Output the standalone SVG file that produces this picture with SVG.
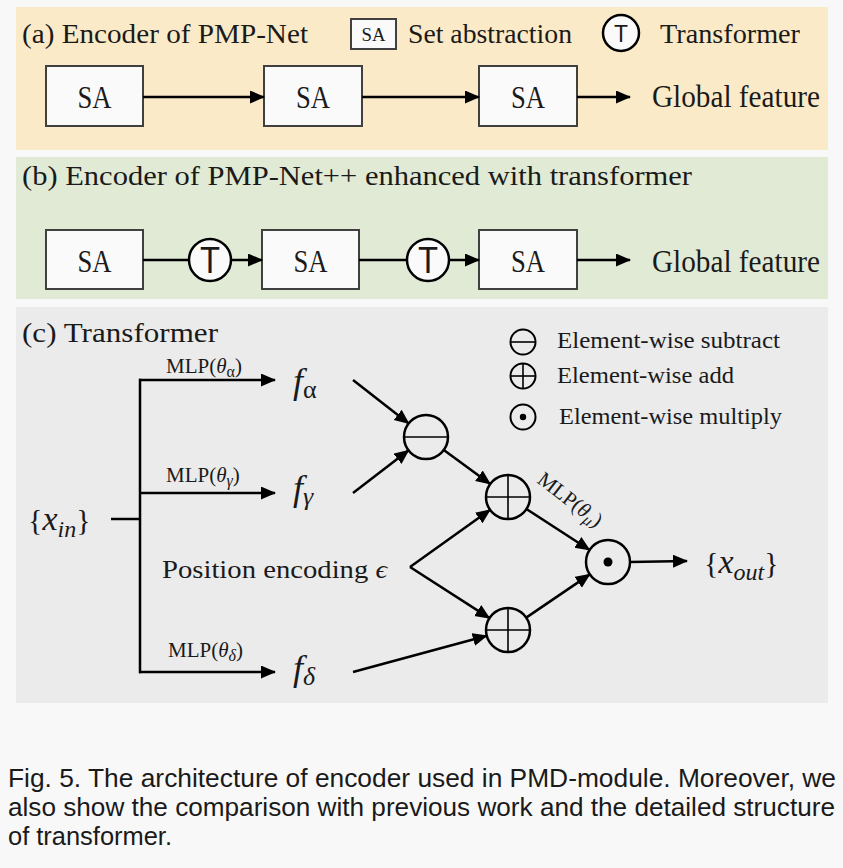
<svg xmlns="http://www.w3.org/2000/svg" width="843" height="868" viewBox="0 0 843 868">
<style>
  .serif { font-family: "Liberation Serif", "DejaVu Serif", serif; fill: #1a1a1a; }
  .it { font-style: italic; }
  .sans { font-family: "Liberation Sans", Arial, sans-serif; fill: #1a1a1a; }
  .box { fill: #fafafa; stroke: #404040; stroke-width: 2; }
  .ln { fill: none; stroke: #000; stroke-width: 2.5; }
  .arr { fill: none; stroke: #000; stroke-width: 2.5; marker-end: url(#ah); }
  .op { fill: none; stroke: #000; stroke-width: 2.5; }
  .opw { fill: #fafafa; stroke: #000; stroke-width: 2.5; }
  .in { stroke: #000; stroke-width: 1.6; }
</style>
<defs>
  <marker id="ah" markerUnits="userSpaceOnUse" markerWidth="16" markerHeight="14" refX="14" refY="6.5" orient="auto">
    <path d="M0,0 L15,6.5 L0,13 z" fill="#000"/>
  </marker>
</defs>
<rect x="0" y="0" width="843" height="868" fill="#f8f8f8"/>

<!-- Panel (a) -->
<g id="panel-a">
  <rect x="16" y="7" width="812" height="143" fill="#fbeac7"/>
  <text class="serif" x="22" y="43" font-size="28" textLength="286" lengthAdjust="spacingAndGlyphs">(a) Encoder of PMP-Net</text>
  <g id="legend-sa">
    <rect x="351" y="19" width="45" height="30" class="box" stroke-width="1.5"/>
    <text class="serif" x="373.5" y="41" font-size="19" text-anchor="middle" textLength="24" lengthAdjust="spacingAndGlyphs">SA</text>
    <text class="serif" x="408" y="43" font-size="28" textLength="164" lengthAdjust="spacingAndGlyphs">Set abstraction</text>
  </g>
  <g id="legend-t">
    <circle cx="621" cy="33" r="18" fill="#fafafa" stroke="#000" stroke-width="2.5"/>
    <text class="sans" x="621" y="42" font-size="24" text-anchor="middle" textLength="14" lengthAdjust="spacingAndGlyphs">T</text>
    <text class="serif" x="660" y="43" font-size="28" textLength="140" lengthAdjust="spacingAndGlyphs">Transformer</text>
  </g>
  <g id="a-sa1"><rect x="46" y="66" width="97" height="60" class="box"/><text class="serif" x="94.5" y="108" font-size="32" text-anchor="middle" textLength="34" lengthAdjust="spacingAndGlyphs">SA</text></g>
  <g id="a-sa2"><rect x="264" y="66" width="98" height="60" class="box"/><text class="serif" x="313" y="108" font-size="32" text-anchor="middle" textLength="34" lengthAdjust="spacingAndGlyphs">SA</text></g>
  <g id="a-sa3"><rect x="479" y="66" width="98" height="60" class="box"/><text class="serif" x="528" y="108" font-size="32" text-anchor="middle" textLength="34" lengthAdjust="spacingAndGlyphs">SA</text></g>
  <g id="a-global"><text class="serif" x="652" y="107" font-size="31" textLength="168" lengthAdjust="spacingAndGlyphs">Global feature</text></g>
</g>

<!-- Panel (b) -->
<g id="panel-b">
  <rect x="16" y="157" width="812" height="142" fill="#e0ead5"/>
  <text class="serif" x="22" y="185" font-size="28" textLength="670" lengthAdjust="spacingAndGlyphs">(b) Encoder of PMP-Net++ enhanced with transformer</text>
  <g id="b-sa1"><rect x="46" y="230" width="97" height="59" class="box"/><text class="serif" x="94.5" y="272" font-size="32" text-anchor="middle" textLength="34" lengthAdjust="spacingAndGlyphs">SA</text></g>
  <g id="b-sa2"><rect x="262" y="230" width="97" height="59" class="box"/><text class="serif" x="310.5" y="272" font-size="32" text-anchor="middle" textLength="34" lengthAdjust="spacingAndGlyphs">SA</text></g>
  <g id="b-sa3"><rect x="479" y="230" width="98" height="59" class="box"/><text class="serif" x="528" y="272" font-size="32" text-anchor="middle" textLength="34" lengthAdjust="spacingAndGlyphs">SA</text></g>
  <g id="b-t1"><circle cx="210" cy="260" r="21" class="opw"/><text class="sans" x="210" y="273" font-size="36" text-anchor="middle" textLength="20" lengthAdjust="spacingAndGlyphs">T</text></g>
  <g id="b-t2"><circle cx="428" cy="260" r="21" class="opw"/><text class="sans" x="428" y="273" font-size="36" text-anchor="middle" textLength="20" lengthAdjust="spacingAndGlyphs">T</text></g>
  <g id="b-global"><text class="serif" x="652" y="272" font-size="31" textLength="168" lengthAdjust="spacingAndGlyphs">Global feature</text></g>
</g>

<!-- Panel (c) -->
<g id="panel-c">
  <rect x="16" y="307" width="812" height="396" fill="#ebebeb"/>
  <text class="serif" x="22" y="342" font-size="28" textLength="196" lengthAdjust="spacingAndGlyphs">(c) Transformer</text>

  <g id="legend-ops">
    <circle cx="523" cy="342" r="12.5" fill="none" stroke="#000" stroke-width="2"/>
    <line x1="510.5" y1="342" x2="535.5" y2="342" class="in" stroke-width="1.3"/>
    <text class="serif" x="557" y="348" font-size="23" textLength="223" lengthAdjust="spacingAndGlyphs">Element-wise subtract</text>
    <circle cx="523" cy="376" r="12.5" fill="none" stroke="#000" stroke-width="2"/>
    <line x1="510.5" y1="376" x2="535.5" y2="376" class="in" stroke-width="1.3"/>
    <line x1="523" y1="363.5" x2="523" y2="388.5" class="in" stroke-width="1.3"/>
    <text class="serif" x="557" y="383" font-size="23" textLength="177" lengthAdjust="spacingAndGlyphs">Element-wise add</text>
    <circle cx="523" cy="417" r="12.5" fill="none" stroke="#000" stroke-width="2"/>
    <circle cx="523" cy="417" r="3.2" fill="#000"/>
    <text class="serif" x="559" y="424" font-size="23" textLength="223" lengthAdjust="spacingAndGlyphs">Element-wise multiply</text>
  </g>

  <g id="xin"><text class="serif" x="28" y="530" font-size="30">{<tspan class="it" font-size="34">x</tspan><tspan class="it" font-size="24" dy="7">in</tspan><tspan dy="-7">}</tspan></text></g>

  <g id="f-alpha"><text class="serif" x="293" y="393" font-size="36"><tspan class="it">f</tspan><tspan font-size="26" dy="5">α</tspan></text></g>
  <g id="f-gamma"><text class="serif" x="293" y="500" font-size="36"><tspan class="it">f</tspan><tspan class="it" font-size="26" dy="5">γ</tspan></text></g>
  <g id="f-delta"><text class="serif" x="293" y="680" font-size="36"><tspan class="it">f</tspan><tspan class="it" font-size="26" dy="5">δ</tspan></text></g>

  <g id="pos-enc"><text class="serif" x="162" y="578" font-size="26" textLength="225" lengthAdjust="spacingAndGlyphs">Position encoding <tspan class="it">ϵ</tspan></text></g>

  <g id="op-sub"><circle cx="426" cy="437" r="22" class="op"/><line x1="404" y1="437" x2="448" y2="437" class="in"/></g>
  <g id="op-add1"><circle cx="508" cy="497" r="22" class="op"/><line x1="486" y1="497" x2="530" y2="497" class="in"/><line x1="508" y1="475" x2="508" y2="519" class="in"/></g>
  <g id="op-add2"><circle cx="508" cy="630" r="22" class="op"/><line x1="486" y1="630" x2="530" y2="630" class="in"/><line x1="508" y1="608" x2="508" y2="652" class="in"/></g>
  <g id="op-mul"><circle cx="608" cy="562" r="22" class="op"/><circle cx="608" cy="562" r="4.5" fill="#000"/></g>

  <g id="xout"><text class="serif" x="704" y="573" font-size="30">{<tspan class="it" font-size="34">x</tspan><tspan class="it" font-size="24" dy="7">out</tspan><tspan dy="-7">}</tspan></text></g>
</g>

<!-- connectors -->
<g id="connectors">
  <line x1="143" y1="97" x2="264" y2="97" class="arr"/>
  <line x1="362" y1="97" x2="479" y2="97" class="arr"/>
  <line x1="577" y1="97" x2="630" y2="97" class="arr"/>

  <line x1="143" y1="260" x2="189" y2="260" class="ln"/>
  <line x1="231" y1="260" x2="262" y2="260" class="arr"/>
  <line x1="359" y1="260" x2="407" y2="260" class="ln"/>
  <line x1="449" y1="260" x2="479" y2="260" class="arr"/>
  <line x1="577" y1="260" x2="630" y2="260" class="arr"/>

  <line x1="111" y1="519" x2="140" y2="519" class="ln"/>
  <polyline points="140,380 140,672" class="ln" stroke-linecap="square"/>
  <line x1="139" y1="380" x2="275" y2="380" class="arr"/>
  <line x1="139" y1="493" x2="275" y2="493" class="arr"/>
  <line x1="139" y1="672" x2="275" y2="672" class="arr"/>

  <line x1="353" y1="380" x2="408.7" y2="423.5" class="arr"/>
  <line x1="353" y1="493" x2="408.6" y2="450.3" class="arr"/>
  <line x1="443.8" y1="450" x2="490.2" y2="484" class="arr"/>
  <line x1="410" y1="567" x2="490.1" y2="509.8" class="arr"/>
  <line x1="410" y1="567" x2="489.5" y2="618.1" class="arr"/>
  <line x1="353" y1="672" x2="486.8" y2="635.8" class="arr"/>
  <line x1="526.4" y1="509" x2="589.6" y2="550" class="arr"/>
  <line x1="526.2" y1="617.6" x2="589.8" y2="574.4" class="arr"/>
  <line x1="630" y1="562" x2="687" y2="561" class="arr"/>

  <text class="serif" x="166" y="373" font-size="21">MLP(<tspan class="it">θ</tspan><tspan font-size="16" dy="4">α</tspan><tspan dy="-4">)</tspan></text>
  <text class="serif" x="166" y="482" font-size="21">MLP(<tspan class="it">θ</tspan><tspan class="it" font-size="16" dy="4">γ</tspan><tspan dy="-4">)</tspan></text>
  <text class="serif" x="168" y="657" font-size="21">MLP(<tspan class="it">θ</tspan><tspan class="it" font-size="16" dy="4">δ</tspan><tspan dy="-4">)</tspan></text>
  <text class="serif" transform="translate(536,482) rotate(37.5)" font-size="21">MLP(<tspan class="it">θ</tspan><tspan class="it" font-size="16" dy="4">μ</tspan><tspan dy="-4">)</tspan></text>
</g>

<!-- caption -->
<g id="caption">
  <text class="sans" x="8" y="787" font-size="25" textLength="828" lengthAdjust="spacingAndGlyphs">Fig. 5. The architecture of encoder used in PMD-module. Moreover, we</text>
  <text class="sans" x="8" y="816" font-size="25" textLength="827" lengthAdjust="spacingAndGlyphs">also show the comparison with previous work and the detailed structure</text>
  <text class="sans" x="8" y="845" font-size="25" textLength="164" lengthAdjust="spacingAndGlyphs">of transformer.</text>
</g>
</svg>
